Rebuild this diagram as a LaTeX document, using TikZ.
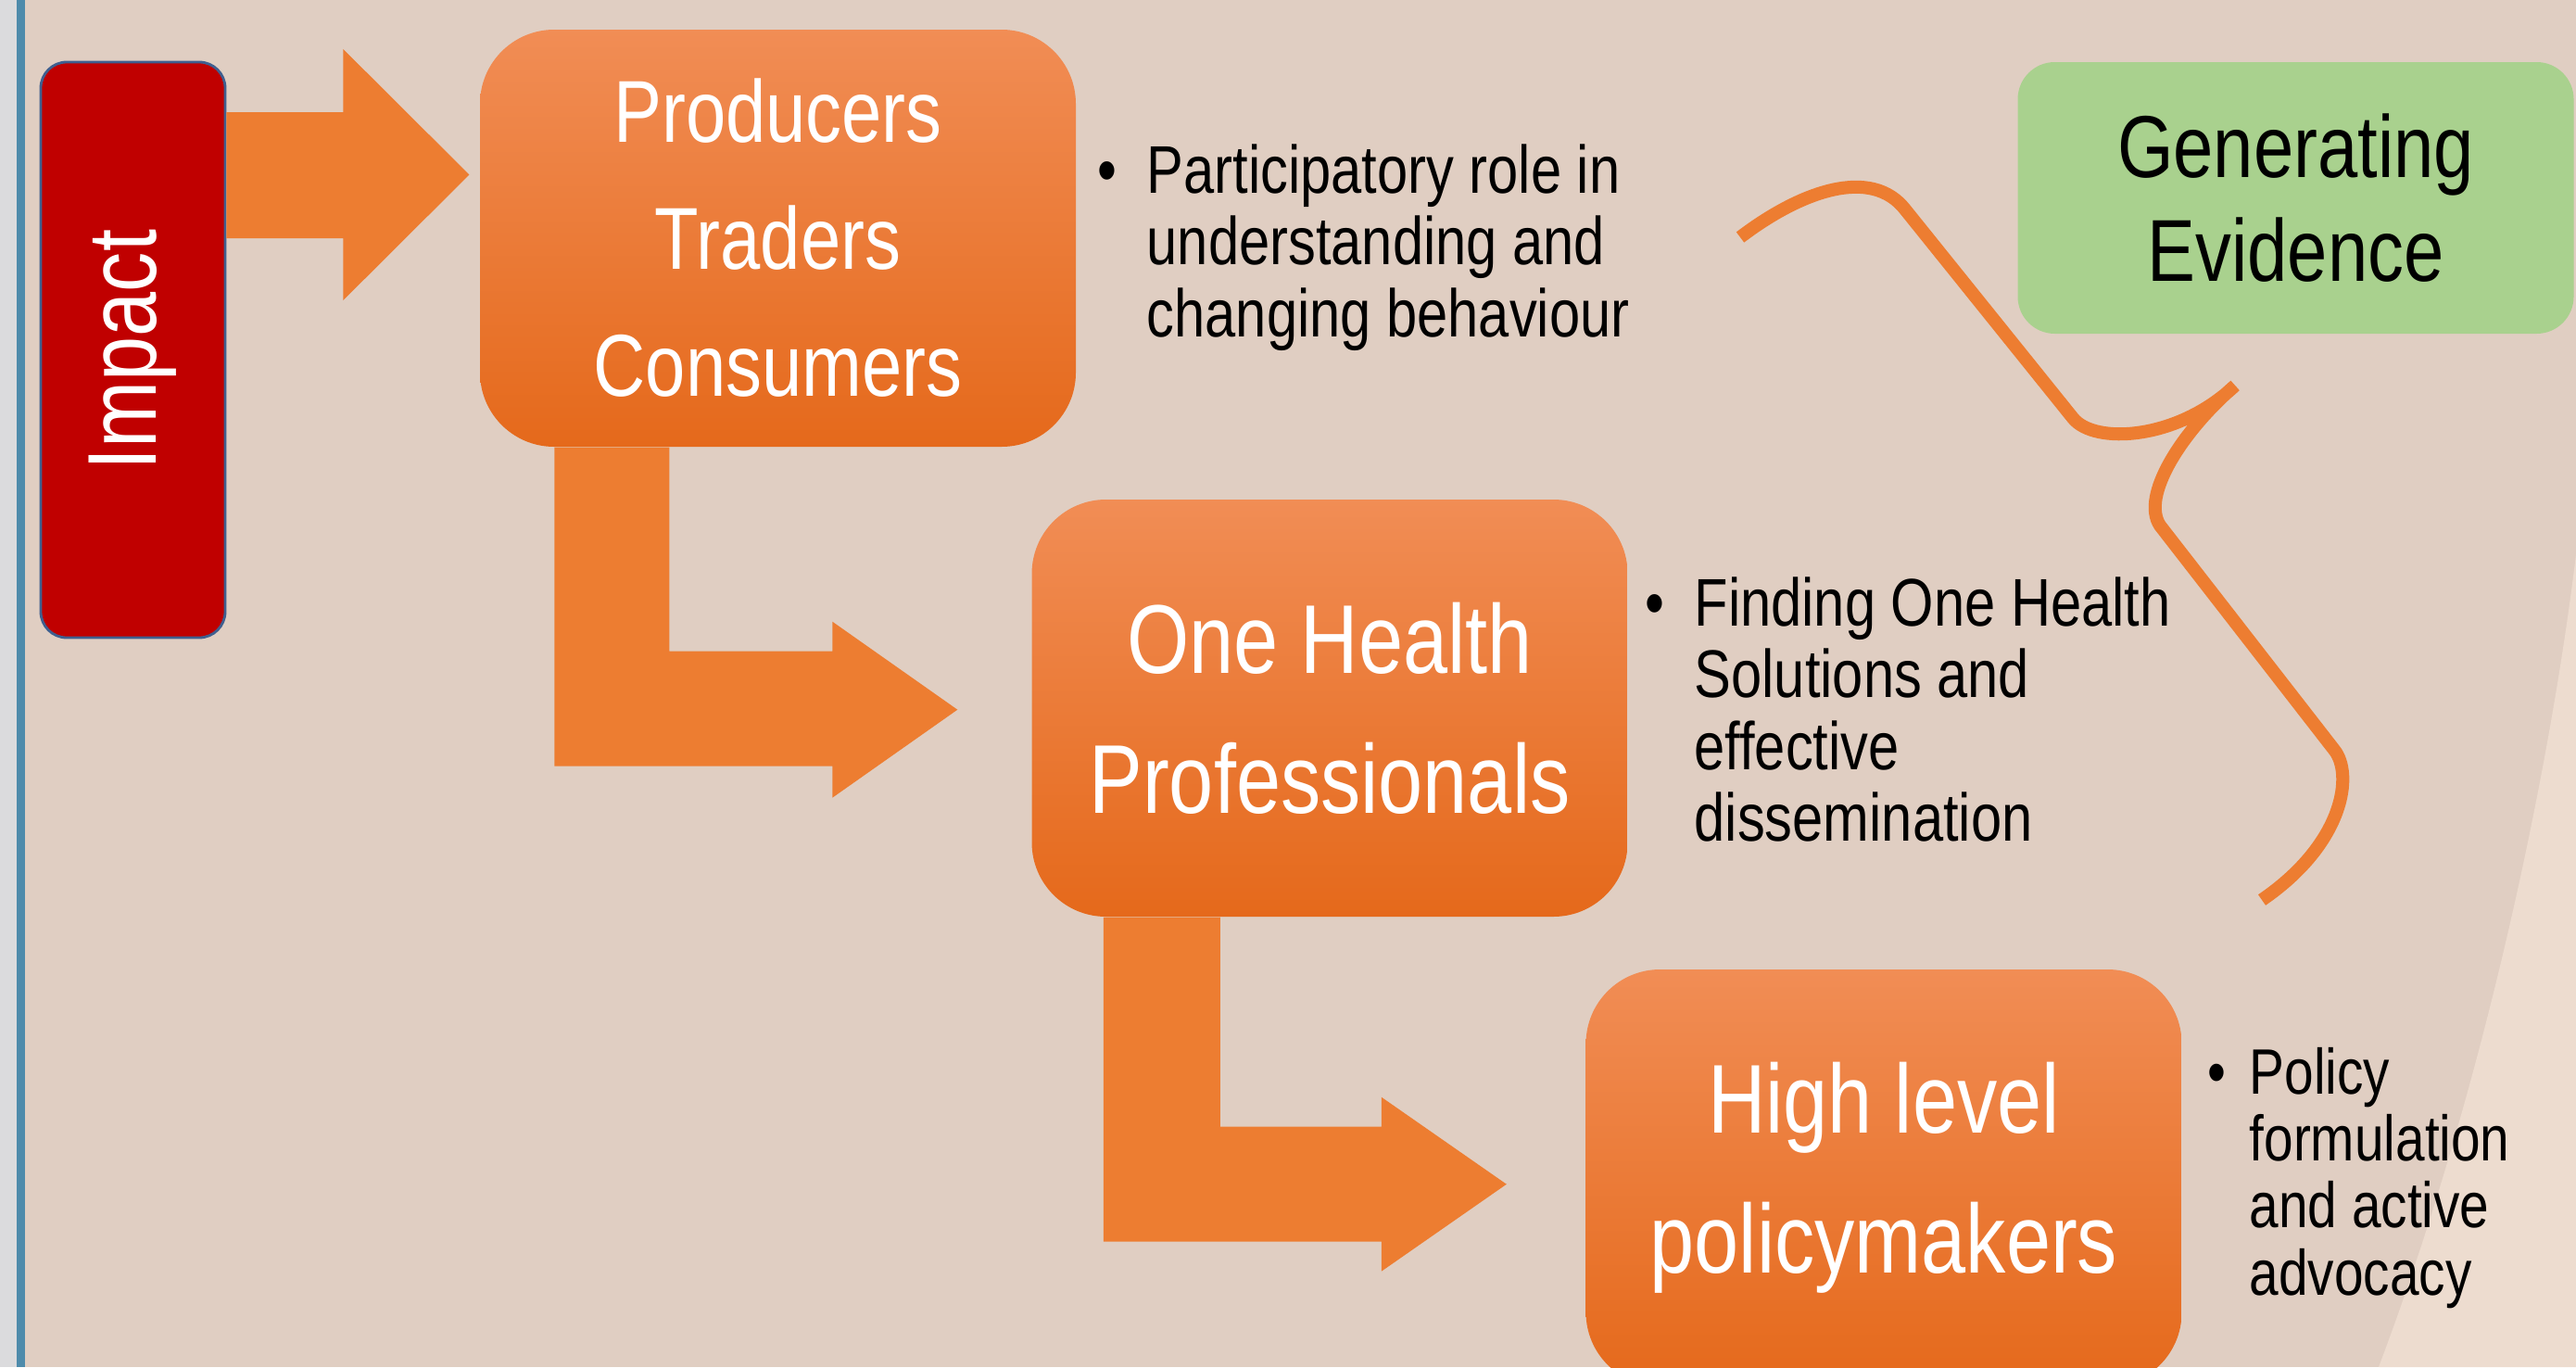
\documentclass[tikz,border=0pt]{standalone}
\usepackage{fontspec}
\setmainfont[FakeStretch=0.82]{Liberation Sans}
\usetikzlibrary{calc}

\definecolor{pagebg}{HTML}{E0CEC2}
\definecolor{lightbg}{HTML}{EDDCCF}
\definecolor{stripgray}{HTML}{DBDBDD}
\definecolor{stripblue}{HTML}{4E8BAB}
\definecolor{arroworange}{HTML}{ED7D31}
\definecolor{stagetop}{HTML}{F18D55}
\definecolor{stagemid}{HTML}{F47B2A}
\definecolor{stagebot}{HTML}{E5691B}
\definecolor{impactred}{HTML}{C00000}
\definecolor{impactline}{HTML}{3F5F8F}
\definecolor{evidencegreen}{HTML}{A9D18E}

\tikzset{
  stage/.style={rounded corners=0.8cm, minimum width=6.43cm, minimum height=4.5cm,
    top color=stagetop, middle color=stagemid, bottom color=stagebot,
    text=white, align=center, inner sep=0pt},
  blockarrow/.style={fill=arroworange},
  note/.style={anchor=north west, align=left, inner sep=0pt, text=black},
}

\begin{document}
\begin{tikzpicture}
            \clip (0,0) rectangle (27.8,-14.75);
            \fill[pagebg] (0,0) rectangle (27.8,-14.75);
            \fill[lightbg] (27.9,-5.0) .. controls (27.7,-7.5) and (26.9,-11.5) .. (25.67,-14.75) -- (27.9,-14.75) -- cycle;
            \fill[stripgray] (0,0) rectangle (0.18,-14.75);
            \fill[stripblue] (0.18,0) rectangle (0.27,-14.75);

            % brace towards the evidence box
            \draw[arroworange, line width=4pt] (18.78,-2.56) .. controls (19.45,-2.05) and (20.2,-1.8) .. (20.56,-2.26)
                -- (22.37,-4.51) .. controls (22.6,-4.8) and (23.5,-4.75) .. (24.12,-4.16)
                .. controls (23.55,-4.65) and (23.1,-5.35) .. (23.31,-5.67)
                -- (25.19,-8.09) .. controls (25.4,-8.35) and (25.3,-9.1) .. (24.41,-9.71);

            \node[rounded corners=0.28cm, rotate=90, minimum width=6.21cm, minimum height=1.99cm,
                fill=impactred, draw=impactline, line width=0.8pt, text=white,
                font=\fontsize{30}{36}\selectfont] (impact) at (1.435,-3.775) {Impact};

            \node[stage, font=\fontsize{27}{39}\selectfont] (prod) at (8.395,-2.57) {Producers\\Traders\\Consumers};
            \node[stage, font=\fontsize{30}{43}\selectfont] (oneh) at (14.35,-7.64) {One Health\\Professionals};
            \node[stage, font=\fontsize{30}{43}\selectfont] (policy) at (20.33,-12.71) {High level\\policymakers};

            \node[rounded corners=0.4cm, minimum width=6.0cm, minimum height=2.93cm, fill=evidencegreen,
                align=center, inner sep=0pt, font=\fontsize{27}{32}\selectfont] (evidence) at (24.775,-2.135) {Generating\\Evidence};

            % block arrows
            \fill[blockarrow] ($(impact.south)+(0,2.565)$) -- ++(1.26,0) -- ++(0,0.68) -- ++(1.36,-1.355)
                -- ++(-1.36,-1.355) -- ++(0,0.67) -- ++(-1.26,0) -- cycle;
            \fill[blockarrow] ($(prod.south west)+(0.81,0)$) -- ++(0,-3.44) -- ++(3.0,0) -- ++(0,-0.34)
                -- ++(1.35,0.95) -- ++(-1.35,0.95) -- ++(0,-0.32) -- ++(-1.76,0) -- ++(0,2.20) -- cycle;
            \fill[blockarrow] ($(oneh.south west)+(0.78,0)$) -- ++(0,-3.50) -- ++(3.0,0) -- ++(0,-0.32)
                -- ++(1.35,0.94) -- ++(-1.35,0.94) -- ++(0,-0.32) -- ++(-1.74,0) -- ++(0,2.26) -- cycle;

            % notes
            \node[note, font=\fontsize{20.7}{22}\selectfont] (role) at (12.37,-1.55)
                {\llap{\textbullet\hspace{0.32cm}}Participatory role in\\understanding and\\changing behaviour};
            \node[note, font=\fontsize{20.7}{22}\selectfont] (solutions) at (18.28,-6.22)
                {\llap{\textbullet\hspace{0.32cm}}Finding One Health\\Solutions and\\effective\\dissemination};
            \node[note, font=\fontsize{19.7}{20.5}\selectfont] (advocacy) at (24.27,-11.30)
                {\llap{\textbullet\hspace{0.25cm}}Policy\\formulation\\and active\\advocacy};
        \end{tikzpicture}
\end{document}
